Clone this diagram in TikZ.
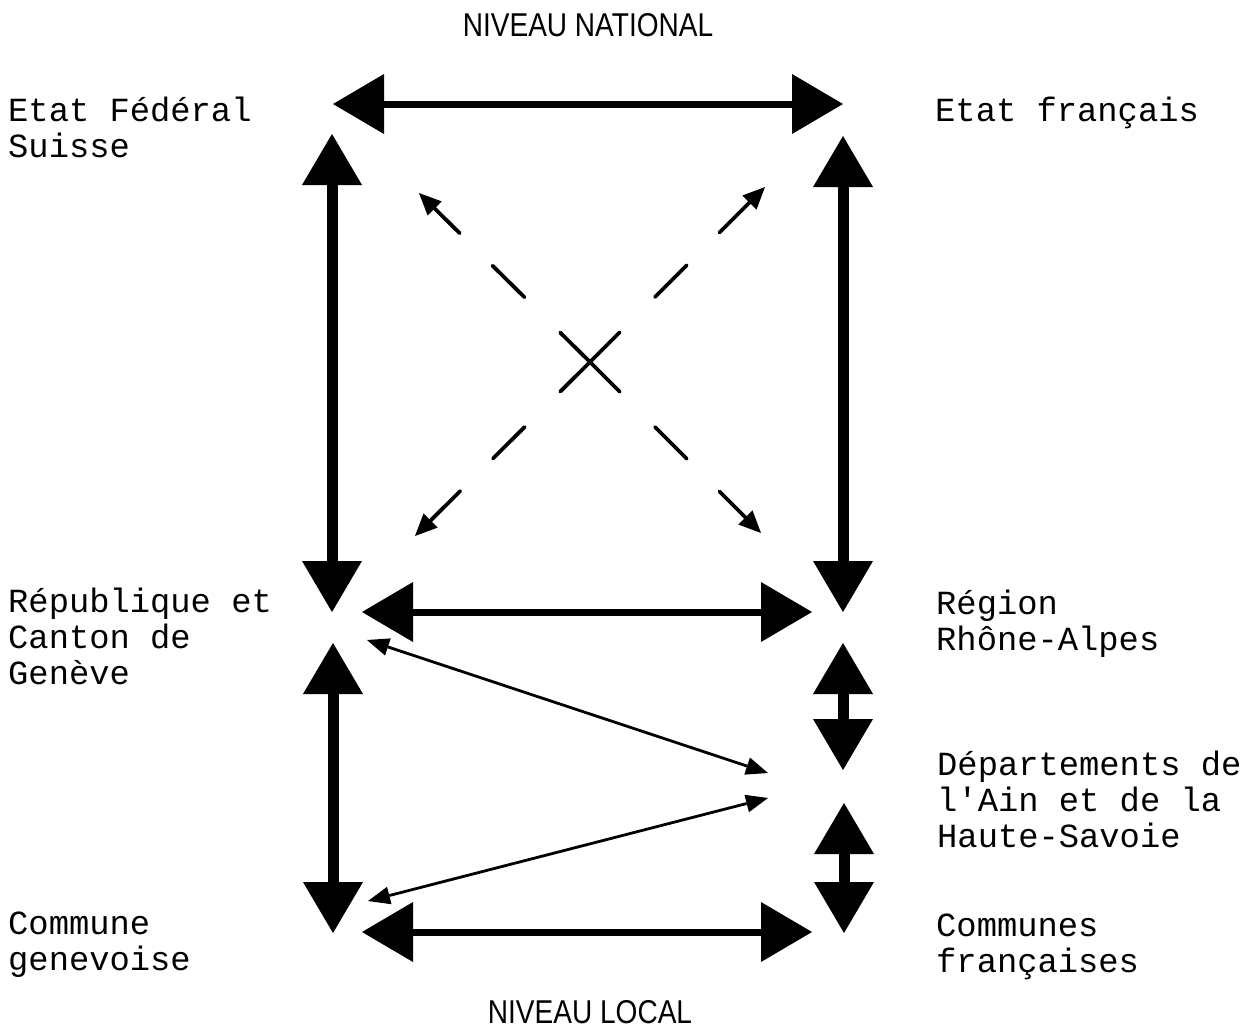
\documentclass[tikz,border=0pt]{standalone}
\usepackage{fontspec}
\setmonofont{Liberation Mono}
\newfontfamily\titlefont{Liberation Sans}[FakeStretch=0.85]
\usetikzlibrary{arrows.meta,calc}
\tikzset{
  lbl/.style={anchor=north west,inner sep=0pt,align=left,
    font=\ttfamily\fontsize{33.8}{36.2}\selectfont},
  ttl/.style={anchor=base,inner sep=0pt,font=\titlefont\fontsize{33}{36}\selectfont},
  bigH/.style={line width=7pt,{Triangle[length=51pt,width=60pt,line width=0pt]}-{Triangle[length=51pt,width=60pt,line width=0pt]}},
  bigV/.style={line width=11pt,{Triangle[length=51pt,width=60pt,line width=0pt]}-{Triangle[length=51pt,width=60pt,line width=0pt]}},
  thin/.style={line width=2.8pt,{Triangle[length=22pt,width=18pt,line width=0pt]}-{Triangle[length=22pt,width=18pt,line width=0pt]}},
  dsh/.style={line width=3.8pt,line cap=round},
  dar/.style={line width=3.8pt,line cap=round,-{Triangle[length=22pt,width=20pt,line width=0pt]}}
}
\newcommand{\firststrut}{\rule{0pt}{32pt}}
\begin{document}
\begin{tikzpicture}[x=1pt,y=-1pt]
\useasboundingbox (0,0) rectangle (1255,1029);
% titles
\node[ttl] (nat) at (588,36) {NIVEAU NATIONAL};
\node[ttl] (loc) at (590,1023) {NIVEAU LOCAL};
% labels
\node[lbl] (suisse) at (8,89) {\firststrut Etat Fédéral\\Suisse};
\node[lbl] (france) at (935,89) {\firststrut Etat français};
\node[lbl] (geneve) at (8,580) {\firststrut République et\\Canton de\\Genève};
\node[lbl] (rhone) at (936,582) {\firststrut Région\\Rhône-Alpes};
\node[lbl] (dept) at (937,743) {\firststrut Départements de\\l'Ain et de la\\Haute-Savoie};
\node[lbl] (comg) at (8,902) {\firststrut Commune\\genevoise};
\node[lbl] (comf) at (936,904) {\firststrut Communes\\françaises};
% arrow end points
\coordinate (tl) at (333,104);
\coordinate (tr) at (843,104);
\coordinate (lv1a) at (332,134);
\coordinate (lv1b) at (332,612);
\coordinate (rv1a) at (843,136);
\coordinate (rv1b) at (843,612);
\coordinate (ml) at (362,612);
\coordinate (mr) at (812,612);
\coordinate (lv2a) at (333,643);
\coordinate (lv2b) at (333,933);
\coordinate (bl) at (362,932);
\coordinate (br) at (812,932);
\coordinate (rs1a) at (843,643);
\coordinate (rs1b) at (843,770);
\coordinate (rs2a) at (844,803);
\coordinate (rs2b) at (844,933);
\coordinate (t1a) at (367,640);
\coordinate (t1b) at (768,773);
\coordinate (t2a) at (768,798);
\coordinate (t2b) at (368,901);
\coordinate (ctr) at (590,362);
\coordinate (dTL) at (419,193);
\coordinate (dTR) at (765,187);
\coordinate (dBL) at (415,536);
\coordinate (dBR) at (761,533);
% thick arrows
\draw[bigH] (tl) -- (tr);
\draw[bigV] (lv1a) -- (lv1b);
\draw[bigV] (rv1a) -- (rv1b);
\draw[bigH] (ml) -- (mr);
\draw[bigV] (lv2a) -- (lv2b);
\draw[bigH] (bl) -- (br);
\draw[bigV] (rs1a) -- (rs1b);
\draw[bigV] (rs2a) -- (rs2b);
% thin arrows
\draw[thin] (t1a) -- (t1b);
\draw[thin] (t2a) -- (t2b);
% dashed diagonals
\foreach \d in {dTL,dTR,dBL,dBR}{
  \draw[dsh] (ctr) -- ($(ctr)!42pt!(\d)$);
  \draw[dsh] ($(ctr)!92pt!(\d)$) -- ($(ctr)!137pt!(\d)$);
  \draw[dar] ($(ctr)!183pt!(\d)$) -- (\d);
}
\end{tikzpicture}
\end{document}
